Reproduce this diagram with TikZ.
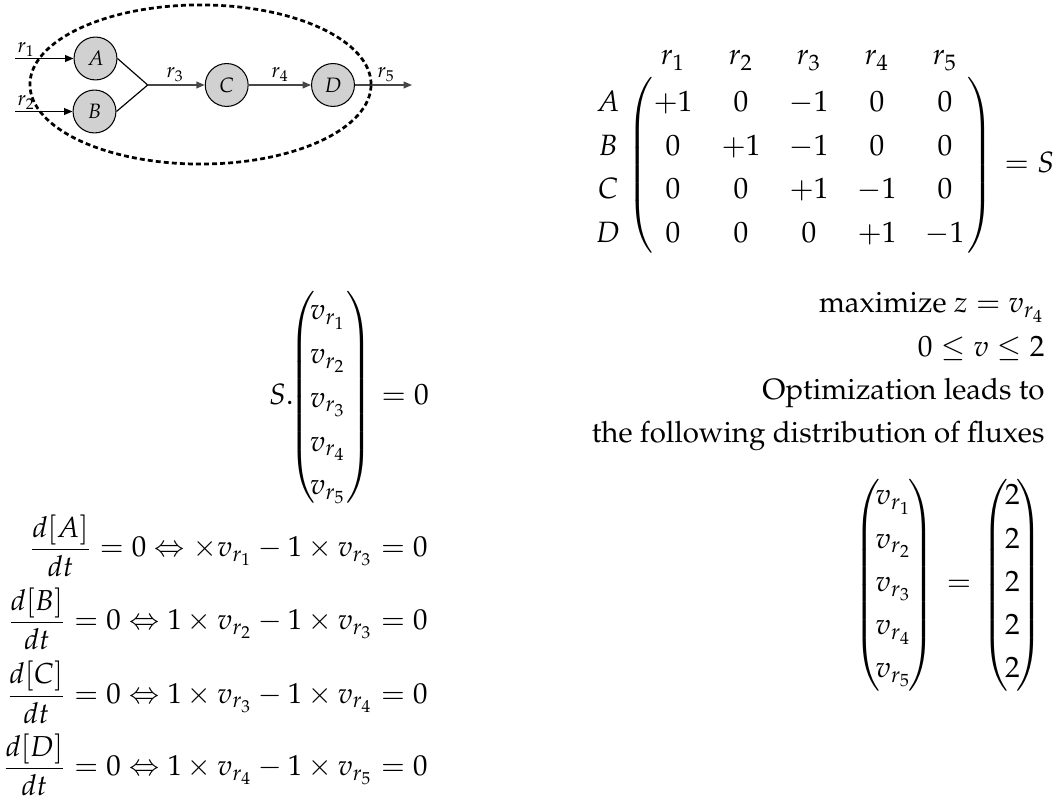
\documentclass[tikz,border=0pt]{standalone}
\usepackage[T1]{fontenc}
\usepackage{mathpazo}
\usepackage{amsmath}
\usetikzlibrary{arrows.meta}
\newcommand{\mylpar}[1]{$\delimiterfactor=1000 \delimitershortfall=0pt \nulldelimiterspace=0pt \left(\vcenter{\hbox{\rule{0pt}{#1}}}\right.$}
\newcommand{\myrpar}[1]{$\delimiterfactor=1000 \delimitershortfall=0pt \nulldelimiterspace=0pt \left.\vcenter{\hbox{\rule{0pt}{#1}}}\right)$}
\begin{document}
\begin{tikzpicture}[x=0.3846pt,y=-0.3846pt,
  every node/.style={font=\fontsize{11.3}{13.6}\selectfont},
  species/.style={circle,draw=black,line width=0.4pt,fill=black!18,minimum size=16.5pt,inner sep=0pt,font=\fontsize{8}{9.6}\selectfont},
  flux/.style={-{Triangle[length=3.2pt,width=2.6pt]},line width=0.45pt},
  trunk/.style={line width=0.55pt,draw=black!72,fill=black!72},
  rlab/.style={anchor=base west,inner sep=0pt,font=\fontsize{8}{9.6}\selectfont},
  cell/.style={anchor=base,inner sep=0pt},
  rtxt/.style={anchor=base east,inner sep=0pt},
  ltxt/.style={anchor=base west,inner sep=0pt},
  baleq/.style={anchor=base east,inner sep=0pt,font=\fontsize{11.1}{13.4}\selectfont},
  delim/.style={inner sep=0pt,anchor=center},
  boundary/.style={line width=1.05pt,dash pattern=on 1.9pt off 1.2pt},
]
\useasboundingbox (0,0) rectangle (1062,801);

% ---------------- network ----------------
\node[species] (A) at (95.5,58.5) {$A$};
\node[species] (B) at (94.5,111.5) {$B$};
\node[species] (C) at (226.7,85) {$C$};
\node[species] (D) at (333,85) {$D$};
\coordinate (in1) at (15,58.5);
\coordinate (in2) at (15,111.5);
\coordinate (J) at (147.7,85);
\coordinate (out) at (412,85);
\draw[flux] (in1) -- (A);
\draw[flux] (in2) -- (B);
\draw[line width=0.45pt] (A.east) -- (J) -- (B.east);
\draw[flux,trunk] (J) -- (C);
\draw[flux,trunk] (C) -- (D);
\draw[flux,trunk] (D) -- (out);
\node[rlab] (l1) at (17,52.3) {$r_1$};
\node[rlab] (l2) at (17,106) {$r_2$};
\node[rlab] (l3) at (166,78) {$r_3$};
\node[rlab] (l4) at (271,78) {$r_4$};
\node[rlab] (l5) at (377,78) {$r_5$};
\draw[boundary] (200.5,84.5) ellipse [x radius=65.6pt, y radius=30.6pt];

% ---------------- stoichiometric matrix ----------------
\foreach \c/\x in {1/673,2/741,3/809,4/877,5/945}
  \node[cell] (h\c) at (\x,65) {$r_{\c}$};
\foreach \r/\y in {A/112,B/155.5,C/199,D/243}
  \node[cell] (row\r) at (608,\y) {$\r$};
\foreach \r/\y/\ea/\eb/\ec/\ed/\ee in {1/112/+1/0/-1/0/0, 2/155.5/0/+1/-1/0/0, 3/199/0/0/+1/-1/0, 4/243/0/0/0/+1/-1}{
  \node[cell] (m\r-1) at (673,\y) {$\ea$};
  \node[cell] (m\r-2) at (741,\y) {$\eb$};
  \node[cell] (m\r-3) at (809,\y) {$\ec$};
  \node[cell] (m\r-4) at (877,\y) {$\ed$};
  \node[cell] (m\r-5) at (945,\y) {$\ee$};
}
\node[delim] (Sl) at (640,165.5) {\mylpar{67.3pt}};
\node[delim] (Sr) at (980,165.5) {\myrpar{67.3pt}};
\node[ltxt] (eqS) at (1004,173) {$= S$};

% ---------------- S . v = 0 ----------------
\node[rtxt] (Sdot) at (294,405) {$S.$};
\foreach \i/\y in {1/320,2/363.75,3/407.5,4/451.25,5/495}
  \node[cell] (v\i) at (328,\y) {$v_{r_{\i}}$};
\node[delim] (vl) at (302.5,397) {\mylpar{79.2pt}};
\node[delim] (vr) at (359,397) {\myrpar{79.2pt}};
\node[ltxt] (eq0) at (381,405) {$= 0$};

% ---------------- mass balances ----------------
\node[baleq] (balA) at (428,557) {$\dfrac{d[A]}{dt} = 0 \Leftrightarrow \times v_{r_1} - 1 \times v_{r_3} = 0$};
\node[baleq] (balB) at (428,630) {$\dfrac{d[B]}{dt} = 0 \Leftrightarrow 1 \times v_{r_2} - 1 \times v_{r_3} = 0$};
\node[baleq] (balC) at (428,703.5) {$\dfrac{d[C]}{dt} = 0 \Leftrightarrow 1 \times v_{r_3} - 1 \times v_{r_4} = 0$};
\node[baleq] (balD) at (428,776) {$\dfrac{d[D]}{dt} = 0 \Leftrightarrow 1 \times v_{r_4} - 1 \times v_{r_5} = 0$};

% ---------------- optimisation text ----------------
\node[rtxt] (t1) at (1045,313) {$\text{maximize}\ z = v_{r_4}$};
\node[rtxt] (t2) at (1045,357) {$0 \leq v \leq 2$};
\node[rtxt] (t3) at (1045,400) {Optimization leads to\ };
\node[rtxt] (t4) at (1045,443) {the following distribution of fluxes};

% ---------------- flux solution ----------------
\foreach \i/\y in {1/505,2/548.3,3/591.7,4/635,5/678}{
  \node[cell] (f\i) at (893.5,\y) {$v_{r_{\i}}$};
  \node[cell] (two\i) at (1012.5,\y) {$2$};
}
\node[delim] (fl) at (867,585) {\mylpar{80.8pt}};
\node[delim] (fr) at (921,585) {\myrpar{80.8pt}};
\node[cell] (feq) at (959,591.5) {$=$};
\node[delim] (tl) at (995,585) {\mylpar{80.8pt}};
\node[delim] (tr) at (1029.5,585) {\myrpar{80.8pt}};
\end{tikzpicture}
\end{document}
